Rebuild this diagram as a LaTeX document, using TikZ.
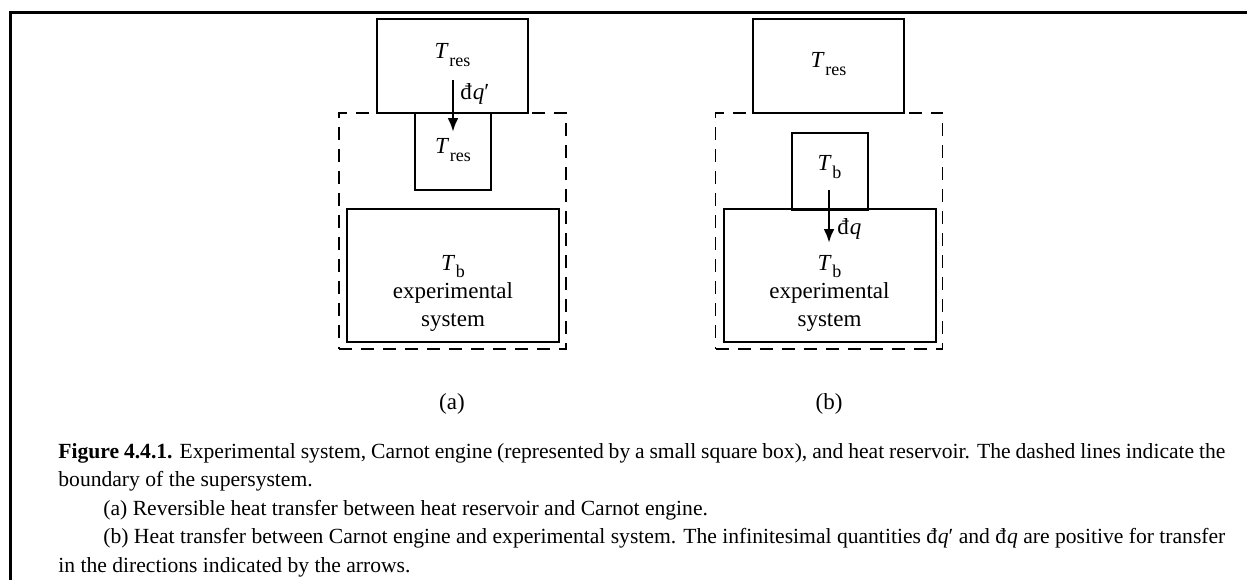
\documentclass[tikz,border=0pt]{standalone}
\usepackage{fontspec}
\setmainfont{Liberation Serif}
\usetikzlibrary{arrows.meta, positioning}

\newcommand{\tvar}[1]{\textit{T}\kern0.02em\raisebox{-0.33em}{\fontsize{9}{9}\selectfont #1}}
\newcommand{\dbar}[1]{đ\kern0.04em\textit{#1}}

\begin{document}
\begin{tikzpicture}[
    x=0.5pt, y=-0.5pt,
    solidbox/.style={rectangle, draw, line width=1pt, inner sep=0pt},
    reservoir/.style={solidbox, minimum width=75.5pt, minimum height=47pt},
    engine/.style={solidbox, minimum width=38pt, minimum height=38.5pt},
    expsys/.style={solidbox, minimum width=106pt, minimum height=66.5pt},
    boundary/.style={rectangle, draw, line width=0.6pt,
                     dash pattern=on 6.5pt off 4.5pt,
                     minimum width=113.5pt, minimum height=118pt,
                     inner sep=0pt},
    heat/.style={-{Latex[length=7pt,width=5.5pt]}, line width=1.4pt},
    lbl/.style={font=\fontsize{11.5}{14}\selectfont, align=center,
                inner sep=0pt},
    capt/.style={font=\fontsize{10.8}{14.25}\selectfont, text width=583.5pt,
                 align=justify, inner sep=0pt},
]

\useasboundingbox (0,0) rectangle (1247,580);

% frame of the figure
\draw[line width=1.5pt] (10,580) |- (1247,12);

% ==========================================================
% (a) reservoir -> Carnot engine
% ==========================================================
\node[boundary] (superA) at (452.5,231) {};
\node[reservoir] (resA) at (452.5,66) {};
\node[lbl] (resAtext) at (452.5,55) {\tvar{res}};
\node[engine] (engA) at (453,151.5) {};
\node[lbl] (engAtext) at (453,150) {\tvar{res}};
\node[expsys] (expA) at (453,275.5) {};
\node[lbl] (expAtext) at (453,293) {\tvar{b}\\experimental\\system};

\coordinate (heatAtop) at (453,80);
\coordinate (heatAbot) at (453,132);
\draw[heat] (heatAtop) -- (heatAbot);
\node[lbl, anchor=west] (dqA) at (460,94) {\dbar{q}′};

\node[lbl] (capA) at (452,404) {(a)};

% ==========================================================
% (b) Carnot engine -> experimental system
% ==========================================================
\node[boundary] (superB) at (829,231) {};
\node[reservoir] (resB) at (828.5,66) {};
\node[lbl] (resBtext) at (828.5,64) {\tvar{res}};
\node[engine] (engB) at (829.5,171) {};
\node[lbl] (engBtext) at (829.5,167) {\tvar{b}};
\node[expsys] (expB) at (829.5,275.5) {};
\node[lbl] (expBtext) at (829.5,293) {\tvar{b}\\experimental\\system};

\coordinate (heatBtop) at (829,190);
\coordinate (heatBbot) at (829,243);
\draw[heat] (heatBtop) -- (heatBbot);
\node[lbl, anchor=west] (dqB) at (837,229) {\dbar{q}};

\node[lbl] (capB) at (829,404) {(b)};

% ==========================================================
% caption
% ==========================================================
\node[capt, anchor=base west] (caption) at (58,458)
    {\textbf{Figure 4.4.1.} Experimental system, Carnot engine
     (represented by a small square box), and heat reservoir.
     The dashed lines indicate the boundary of the supersystem.\par
     \hspace*{22.5pt}(a) Reversible heat transfer between heat reservoir
     and Carnot engine.\par
     \hspace*{22.5pt}(b) Heat transfer between Carnot engine and
     experimental system.  The infinitesimal quantities \dbar{q}′ and
     \dbar{q} are positive for transfer in the directions indicated by
     the arrows.};

\end{tikzpicture}
\end{document}
